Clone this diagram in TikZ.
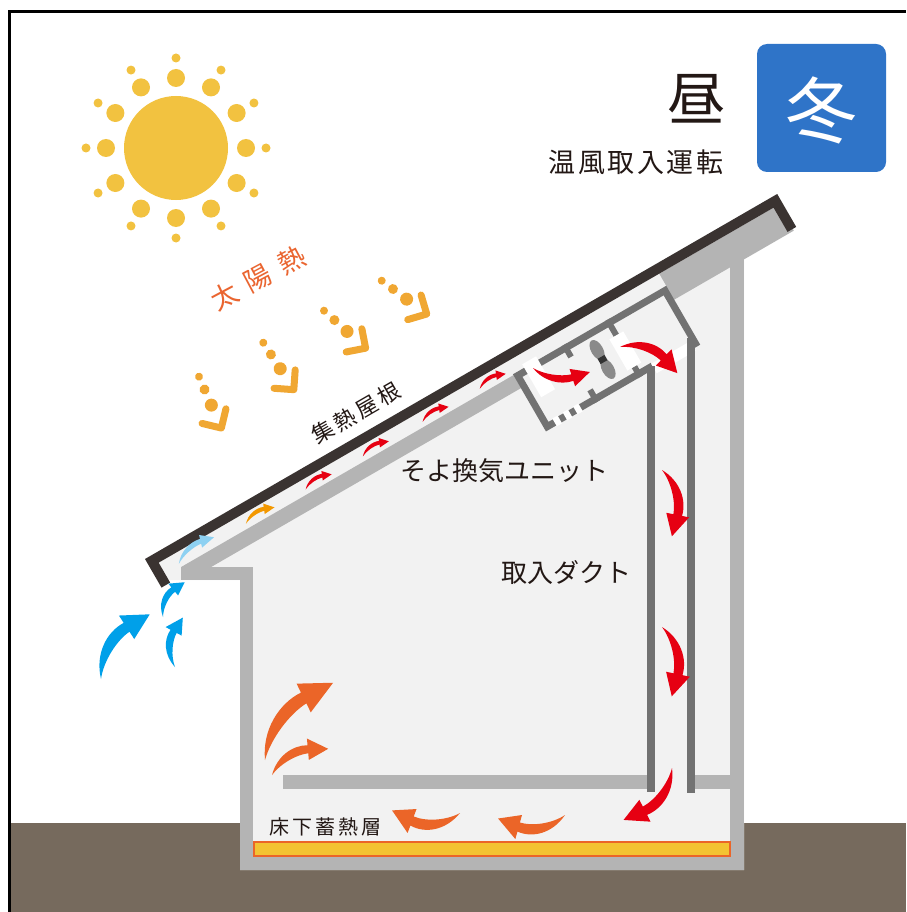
\documentclass[tikz,border=0pt]{standalone}
\usepackage{fontspec}
\newfontfamily\jp{Noto Sans CJK JP}
\definecolor{roomfill}{HTML}{F2F2F2}
\definecolor{wallgray}{HTML}{B4B4B4}
\definecolor{unitgray}{HTML}{727272}
\definecolor{fangray}{HTML}{8A8A8A}
\definecolor{roofblack}{HTML}{3A3331}
\definecolor{ground}{HTML}{766A5D}
\definecolor{sunyellow}{HTML}{F2C240}
\definecolor{heatorange}{HTML}{F0A732}
\definecolor{textorange}{HTML}{EA6530}
\definecolor{airred}{HTML}{E60012}
\definecolor{warmorange}{HTML}{EB6528}
\definecolor{ambergold}{HTML}{F39800}
\definecolor{skyblue}{HTML}{00A0E9}
\definecolor{paleblue}{HTML}{8ED1F2}
\definecolor{badgeblue}{HTML}{2F74C8}
\definecolor{ink}{HTML}{231815}
\definecolor{layeryellow}{HTML}{F3C332}
% curved air-flow arrow: tail at the origin, tip at (1,0), bulging upward
\newcommand\swoosh[6]{%
  \fill[#1, shift={(#2,#3)}, rotate=#4, xscale=#5, yscale=#6]
    (0,0) .. controls (0.2,-0.22) and (0.5,-0.27) .. (0.722,-0.176)
    -- (0.759,-0.268) -- (1,0) -- (0.641,0.028) -- (0.678,-0.064)
    .. controls (0.5,-0.12) and (0.2,-0.1) .. (0,0) -- cycle;}
% dotted solar-heat ray ending in a chevron
\newcommand\heatray[3]{%
  \begin{scope}[shift={(#1,#2)}, rotate=#3]
    \fill[heatorange] (0,0) circle (4) (14,0) circle (5) (31,0) circle (6.5);
    \draw[heatorange, line width=7pt, line cap=round, line join=round,
          rotate around={8:(56,0)}] (42,-14) -- (56,0) -- (42,14);
  \end{scope}}
\begin{document}
\begin{tikzpicture}[x=1pt, y=-1pt]
\useasboundingbox (0,0) rectangle (906,912);
\fill[white] (0,0) rectangle (906,912);
% ground and frame
\fill[ground] (11,823) rectangle (906,912);
\draw[black, line width=2.7pt] (9.7,912) -- (9.7,11.3) -- (906,11.3);

% sun
\begin{scope}[shift={(176,148)}]
  \fill[sunyellow] (0,0) circle (52);
  \foreach \a in {0,30,...,330} {
    \fill[sunyellow] (\a:70) circle (9);
    \fill[sunyellow] (\a:90) circle (4.5);
  }
\end{scope}

% solar heat rays
\heatray{381.7}{280.7}{-36.5}
\heatray{324}{310.7}{-42}
\heatray{263.3}{342.7}{-57}
\heatray{199}{376.7}{-66.5}
\node[font=\jp\fontsize{27pt}{27pt}\selectfont\addfontfeature{LetterSpace=40},
      text=textorange, rotate=28, inner sep=0pt] (solarheat) at (258,278) {太陽熱};

% house body
\fill[roomfill] (168.7,580) -- (145,559) -- (777.2,194) -- (793.7,230.6)
  -- (744,259.4) -- (744,870) -- (240,870) -- (240,580) -- cycle;
\fill[wallgray] (181.2,567) rectangle (253,580);
\fill[wallgray] (240,567) rectangle (253,870);
\fill[wallgray] (240,857) rectangle (744,870);
\fill[wallgray] (730,255) rectangle (744,870);
% floor slab
\fill[wallgray] (283,775) rectangle (730,789);
\fill[roomfill] (655,775) rectangle (687,789);
% under-floor heat storage layer
\filldraw[fill=layeryellow, draw=warmorange, line width=2pt] (254,842) rectangle (730,856);

% roof frame: a along the roof, d into the house
\begin{scope}[shift={(145,559)}, rotate=30]
  % ceiling layer and end block
  \fill[wallgray] (27.35,25) -- (588,25) -- (588,10) -- (726,10) -- (726,40)
    -- (53.3,40) -- cycle;
  % ventilation unit
  \fill[roomfill] (414.5,27.5) rectangle (584.5,86.5);
  \draw[unitgray, line width=7pt] (536,86.5) -- (414.5,86.5) -- (414.5,27.5)
    -- (584.5,27.5) -- (584.5,92);
  \draw[unitgray, line width=6pt] (470,24) -- (470,38) (470,76) -- (470,90)
    (520,24) -- (520,42) (520,78) -- (520,90);
  \fill[white] (424,20) rectangle (440,58);
  \fill[white] (512,42) rectangle (528,78);
  \fill[white] (536,84) rectangle (581,95);
  \foreach \g in {423,435,447} \fill[white] (\g,82) rectangle (\g+6,91);
  % fan
  \fill[fangray] (496,45) ellipse [x radius=6, y radius=11];
  \fill[fangray] (496,67) ellipse [x radius=6, y radius=11];
  \fill[black!80] (492,53) rectangle (500,59);
\end{scope}

% ducts
\fill[unitgray] (647,366) rectangle (655,792);
\fill[unitgray] (687,338) rectangle (695,793);

\begin{scope}[shift={(145,559)}, rotate=30]
  % roof sheet
  \draw[roofblack, line width=10pt] (5,33) -- (5,5) -- (725,5) -- (725,38);
  % air in the roof channel
  \swoosh{paleblue}{27}{21}{7}{44}{40}
  \swoosh{ambergold}{105}{20}{0}{33}{33}
  \swoosh{airred}{174}{20}{0}{30}{30}
  \swoosh{airred}{240}{20}{0}{30}{30}
  \swoosh{airred}{309}{20}{0}{30}{30}
  \swoosh{airred}{375}{20}{0}{30}{30}
\end{scope}

% outside air
\swoosh{skyblue}{101}{679}{53}{81}{89}
\swoosh{skyblue}{163}{617}{58}{41}{49}
\swoosh{skyblue}{175}{667}{81}{50}{58}
% warm air through the unit and duct
\swoosh{airred}{533}{368}{-4}{57}{-57}
\swoosh{airred}{620}{347}{-24.5}{63}{72}
\swoosh{airred}{662}{470}{-81.5}{67}{74}
\swoosh{airred}{662}{627}{-82}{70}{77}
\swoosh{airred}{672}{768}{-133}{71}{78}
% warm air in the room
\swoosh{warmorange}{265}{760}{48.6}{103}{100}
\swoosh{warmorange}{272}{775}{25}{62}{68}
\swoosh{warmorange}{460}{813}{177.8}{68}{82}
\swoosh{warmorange}{565}{815}{183}{67}{80}

% labels
\node[font=\jp\fontsize{22pt}{22pt}\selectfont\addfontfeature{LetterSpace=16},
      text=ink, rotate=30, inner sep=0pt] (roofname) at (356,413) {集熱屋根};
\node[font=\jp\fontsize{26pt}{26pt}\selectfont, text=ink, inner sep=0pt]
  (unitname) at (504,471) {そよ換気ユニット};
\node[font=\jp\fontsize{26pt}{26pt}\selectfont, text=ink, inner sep=0pt]
  (ductname) at (566,573) {取入ダクト};
\node[font=\jp\fontsize{20pt}{20pt}\selectfont\addfontfeature{LetterSpace=15},
      text=ink, inner sep=0pt] (layername) at (325,827) {床下蓄熱層};
\node[font=\jp\fontsize{58pt}{58pt}\selectfont, text=ink, inner sep=0pt]
  (daytime) at (696,99) {昼};
\node[font=\jp\fontsize{27pt}{27pt}\selectfont\addfontfeature{LetterSpace=9},
      text=ink, inner sep=0pt] (modename) at (636,162) {温風取入運転};
\fill[badgeblue, rounded corners=10pt] (757,44) rectangle (886,172);
\node[font=\jp\fontsize{72pt}{72pt}\selectfont, text=white, inner sep=0pt]
  (season) at (821,110) {冬};
\end{tikzpicture}
\end{document}
